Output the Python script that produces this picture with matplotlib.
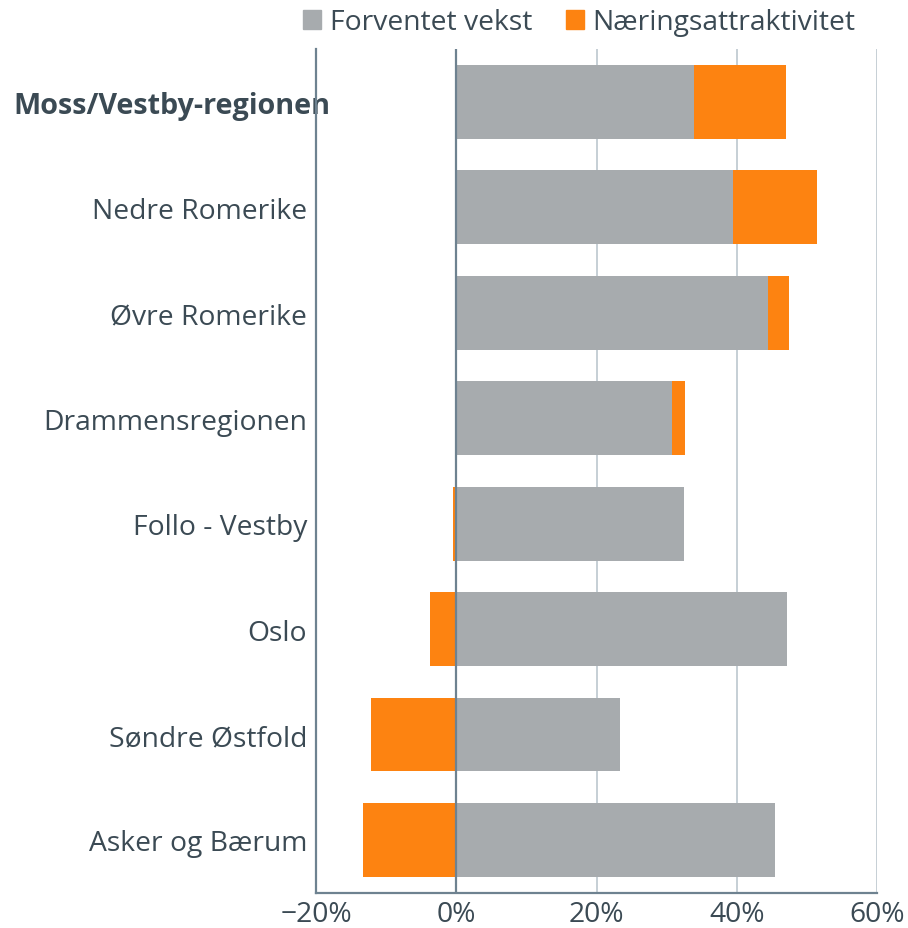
import matplotlib.pyplot as plt
import matplotlib.transforms as mtransforms
from matplotlib.patches import Patch

plt.rcParams['font.family'] = ['Open Sans', 'DejaVu Sans']

# ===================== DATA =====================
regions = ["Moss/Vestby-regionen", "Nedre Romerike", "Øvre Romerike",
           "Drammensregionen", "Follo - Vestby", "Oslo",
           "Søndre Østfold", "Asker og Bærum"]
vekst = [33.9, 39.4, 44.5, 30.7, 32.4, 47.2, 23.4, 45.5]
attraktivitet = [13.1, 12.0, 3.0, 1.9, -0.4, -3.8, -12.1, -13.3]
xticks = [-20, 0, 20, 40, 60]

# ===================== STYLE =====================
GRAY = "#a7abae"
ORANGE = "#fd8311"
TEXT = "#3b4a54"
SPINE = "#6e8290"
GRID = "#bcc7ce"
FS = 20.3

fig = plt.figure(figsize=(9.08, 9.29), dpi=100)
ax = fig.add_axes([0.348, 0.038, 0.618, 0.908])

y = range(len(regions))
ax.barh(y, vekst, height=0.7, color=GRAY, label="Forventet vekst", zorder=2)
left = [v if a > 0 else 0 for v, a in zip(vekst, attraktivitet)]
ax.barh(y, attraktivitet, left=left, height=0.7, color=ORANGE,
        label="Næringsattraktivitet", zorder=2)

ax.set_xlim(-20, 60)
ax.set_ylim(len(regions) - 0.5, -0.5)
ax.set_xticks(xticks)
ax.set_xticklabels([f"\u2212{-t}%" if t < 0 else f"{t}%" for t in xticks])
ax.set_yticks(list(y))
ax.set_yticklabels(regions)

for t in [20, 40, 60]:
    ax.axvline(t, color=GRID, lw=1.2, zorder=1)
ax.axvline(0, color=SPINE, lw=1.6, zorder=3)

for s in ["top", "right"]:
    ax.spines[s].set_visible(False)
for s in ["left", "bottom"]:
    ax.spines[s].set_color(SPINE)
    ax.spines[s].set_linewidth(1.6)

ax.tick_params(axis="y", length=0, pad=6.5, labelsize=FS, labelcolor=TEXT)
ax.tick_params(axis="x", length=0, pad=5, labelsize=FS, labelcolor=TEXT)

# bold first label, shifted right past the spine
lbl = ax.get_yticklabels()[0]
lbl.set_fontweight("bold")
lbl.set_fontsize(20.7)
lbl.set_transform(lbl.get_transform() + mtransforms.ScaledTranslation(23 / 100, 0, fig.dpi_scale_trans))

handles = [Patch(color=GRAY), Patch(color=ORANGE)]
fig.legend(handles, ["Forventet vekst", "Næringsattraktivitet"],
           loc="center", bbox_to_anchor=(0.638, 0.975), ncol=2, frameon=False,
           fontsize=FS, labelcolor=TEXT, handlelength=0.65, handleheight=0.65,
           handletextpad=0.3, columnspacing=1.2)

fig.savefig("out.png", dpi=100)
